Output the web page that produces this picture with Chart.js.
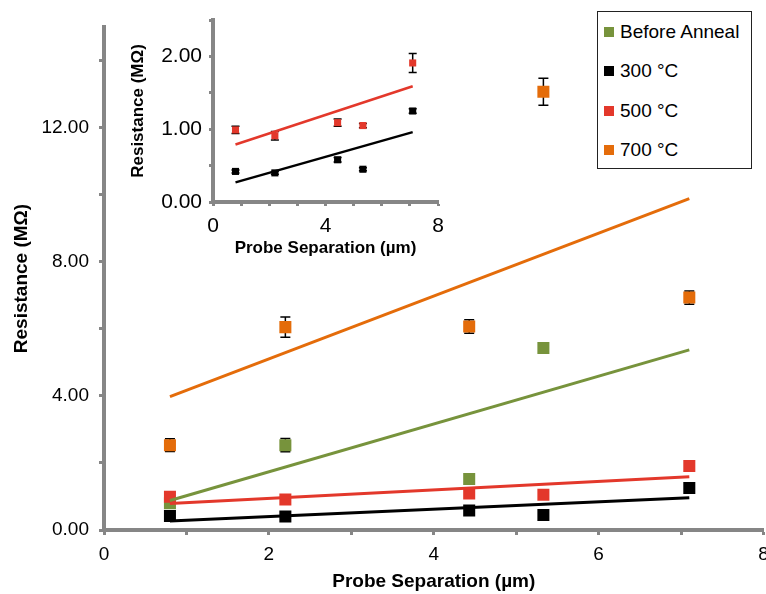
<!DOCTYPE html>
<html>
<head>
<meta charset="utf-8">
<script src="https://cdn.jsdelivr.net/npm/chart.js@4"></script>
<style>
  html, body { margin: 0; padding: 0; background: #fff; overflow: hidden; }
  #wrap { position: relative; width: 766px; height: 594px; overflow: hidden; font-family: 'Liberation Sans', Arial, sans-serif; }
  #main { position: absolute; left: 0; top: 0; }
  #insetBox { position: absolute; left: 120px; top: 10px; width: 330px; height: 255px; background: #fff; }
  #legend { position: absolute; left: 597px; top: 11px; width: 153px; height: 156px; border: 1px solid #222; background: #fff; }
  .item { position: absolute; left: 6px; height: 24px; display: flex; align-items: center; font-size: 19px; color: #000; white-space: nowrap; }
  .item span.box { display: inline-block; width: 10px; height: 10px; margin-right: 6px; }
</style>
</head>
<body>
<div id="wrap">
  <canvas id="main" width="772" height="594"></canvas>
  <div id="insetBox"><canvas id="inset" width="330" height="255"></canvas></div>
  <div id="legend"></div>
</div>
<script>
// probe separations (µm)
const xValues = [0.8, 2.2, 4.43, 5.33, 7.1];

const seriesNames = ['Before Anneal', '300 °C', '500 °C', '700 °C'];
const seriesColors = ['#77933C', '#000000', '#E3382B', '#E46C0A'];

// resistance (MΩ) and error bars
const beforeAnneal = [0.80, 2.53, 1.52, 5.43];
const beforeAnnealErr = [0.05, 0.2, 0.03, 0.03];
const r300 = [0.42, 0.40, 0.58, 0.45, 1.25];
const r300Err = [0.02, 0.02, 0.03, 0.02, 0.03];
const r500 = [0.99, 0.91, 1.09, 1.05, 1.91];
const r500Err = [0.05, 0.06, 0.05, 0.03, 0.13];
const r700 = [2.53, 6.05, 6.07, 13.07, 6.93];
const r700Err = [0.19, 0.30, 0.2, 0.40, 0.2];

// linear trend lines (end points)
const trendX = [0.8, 7.1];
const trendBefore = [0.88, 5.37];
const trend300 = [0.27, 0.96];
const trend500 = [0.79, 1.59];
const trend700 = [3.98, 9.88];

// tick labels
const mainYTicks = [0, 4, 8, 12];
const mainXTicks = [0, 2, 4, 6, 8];
const insetYTicks = [0, 1, 2];
const insetXTicks = [0, 4, 8];

const FONT = "'Liberation Sans', Arial, sans-serif";
const AXIS_GREY = '#868686';

function pts(xs, ys) {
  return ys.map((y, i) => ({ x: xs[i], y: y }));
}

// legend
const legendEl = document.getElementById('legend');
seriesNames.forEach((name, i) => {
  const d = document.createElement('div');
  d.className = 'item';
  d.style.top = (8 + i * 39.3) + 'px';
  d.innerHTML = '<span class="box" style="background:' + seriesColors[i] + '"></span>' + name;
  legendEl.appendChild(d);
});

// draws vertical error bars under each dataset's markers
const errorBars = {
  id: 'errorBars',
  beforeDatasetDraw(chart, args, opts) {
    const ds = chart.data.datasets[args.index];
    if (!ds.errors) return;
    const ys = chart.scales.y;
    const ctx = chart.ctx;
    ctx.save();
    ctx.strokeStyle = '#000';
    ctx.lineWidth = opts.width;
    ds.data.forEach((p, i) => {
      const e = ds.errors[i];
      if (!e) return;
      const px = args.meta.data[i].x;
      const top = ys.getPixelForValue(p.y + e);
      const bot = ys.getPixelForValue(p.y - e);
      ctx.beginPath();
      ctx.moveTo(px, top); ctx.lineTo(px, bot);
      ctx.moveTo(px - opts.cap, top); ctx.lineTo(px + opts.cap, top);
      ctx.moveTo(px - opts.cap, bot); ctx.lineTo(px + opts.cap, bot);
      ctx.stroke();
    });
    ctx.restore();
  }
};

function trendSet(ys, color, width) {
  return {
    data: pts(trendX, ys),
    showLine: true,
    borderColor: color,
    borderWidth: width,
    pointRadius: 0,
    fill: false
  };
}

function pointSet(ys, errs, color, radius) {
  return {
    data: pts(xValues, ys),
    errors: errs,
    showLine: false,
    pointStyle: 'rect',
    pointRadius: radius,
    backgroundColor: color,
    borderColor: color,
    borderWidth: 0
  };
}

function axes(o) {
  const tickFont = { family: FONT, size: o.tickSize };
  const titleFont = { family: FONT, size: o.titleSize, weight: 'bold' };
  const gridCfg = { drawOnChartArea: false, drawTicks: true, tickLength: o.tickLen, tickWidth: 3, tickColor: AXIS_GREY };
  return {
    x: {
      type: 'linear', min: 0, max: 8,
      border: { color: AXIS_GREY, width: 4 },
      grid: gridCfg,
      ticks: {
        stepSize: 1, includeBounds: false, maxRotation: 0, autoSkip: false,
        color: '#000', font: tickFont, padding: o.xPad,
        callback: v => o.xTicks.includes(v) ? String(v) : ''
      },
      title: { display: true, text: 'Probe Separation (µm)', color: '#000', font: titleFont, padding: { top: 0, bottom: o.xTitlePad } },
      afterFit: s => { s.height = o.xHeight; s.paddingLeft = 0; s.paddingRight = 0; }
    },
    y: {
      type: 'linear', min: 0, max: o.yMax,
      border: { color: AXIS_GREY, width: 4 },
      grid: gridCfg,
      ticks: {
        stepSize: o.yStep, includeBounds: false, autoSkip: false,
        color: '#000', font: tickFont, padding: o.yPad,
        callback: v => o.yTicks.includes(v) ? v.toFixed(2) : ''
      },
      title: { display: true, text: 'Resistance (MΩ)', color: '#000', font: titleFont, padding: { top: o.yTitlePad, bottom: 0 } },
      afterFit: s => { s.width = o.yWidth; s.paddingTop = 0; s.paddingBottom = 0; }
    }
  };
}

new Chart(document.getElementById('main'), {
  type: 'scatter',
  data: {
    datasets: [
      trendSet(trend700, seriesColors[3], 3),
      trendSet(trendBefore, seriesColors[0], 3),
      trendSet(trend500, seriesColors[2], 3),
      trendSet(trend300, seriesColors[1], 3),
      pointSet(r300, r300Err, seriesColors[1], 8.5),
      pointSet(r500, r500Err, seriesColors[2], 8.5),
      pointSet(r700, r700Err, seriesColors[3], 8.5),
      pointSet(beforeAnneal, beforeAnnealErr, seriesColors[0], 8.5)
    ]
  },
  options: {
    responsive: false,
    animation: false,
    layout: { padding: { left: 0, right: 0, top: 27, bottom: 0 } },
    plugins: { legend: { display: false }, tooltip: { enabled: false }, errorBars: { cap: 5, width: 1.5 } },
    scales: axes({
      tickSize: 19, titleSize: 19, tickLen: 5,
      xPad: 8, xTitlePad: 1, xHeight: 64, xTicks: mainXTicks,
      yMax: 15, yStep: 2, yPad: 10, yTitlePad: 10, yWidth: 104, yTicks: mainYTicks
    })
  },
  plugins: [errorBars]
});

new Chart(document.getElementById('inset'), {
  type: 'scatter',
  data: {
    datasets: [
      trendSet(trend500, seriesColors[2], 2.5),
      trendSet(trend300, seriesColors[1], 2.5),
      pointSet(r300, r300Err, seriesColors[1], 5),
      pointSet(r500, r500Err, seriesColors[2], 5)
    ]
  },
  options: {
    responsive: false,
    animation: false,
    layout: { padding: { left: 0, right: 12, top: 10, bottom: 0 } },
    plugins: { legend: { display: false }, tooltip: { enabled: false }, errorBars: { cap: 4, width: 1.5 } },
    scales: axes({
      tickSize: 21, titleSize: 17, tickLen: 4,
      xPad: 8, xTitlePad: 6, xHeight: 63, xTicks: insetXTicks,
      yMax: 2.5, yStep: 0.5, yPad: 7, yTitlePad: 8, yWidth: 93, yTicks: insetYTicks
    })
  },
  plugins: [errorBars]
});
</script>
</body>
</html>
